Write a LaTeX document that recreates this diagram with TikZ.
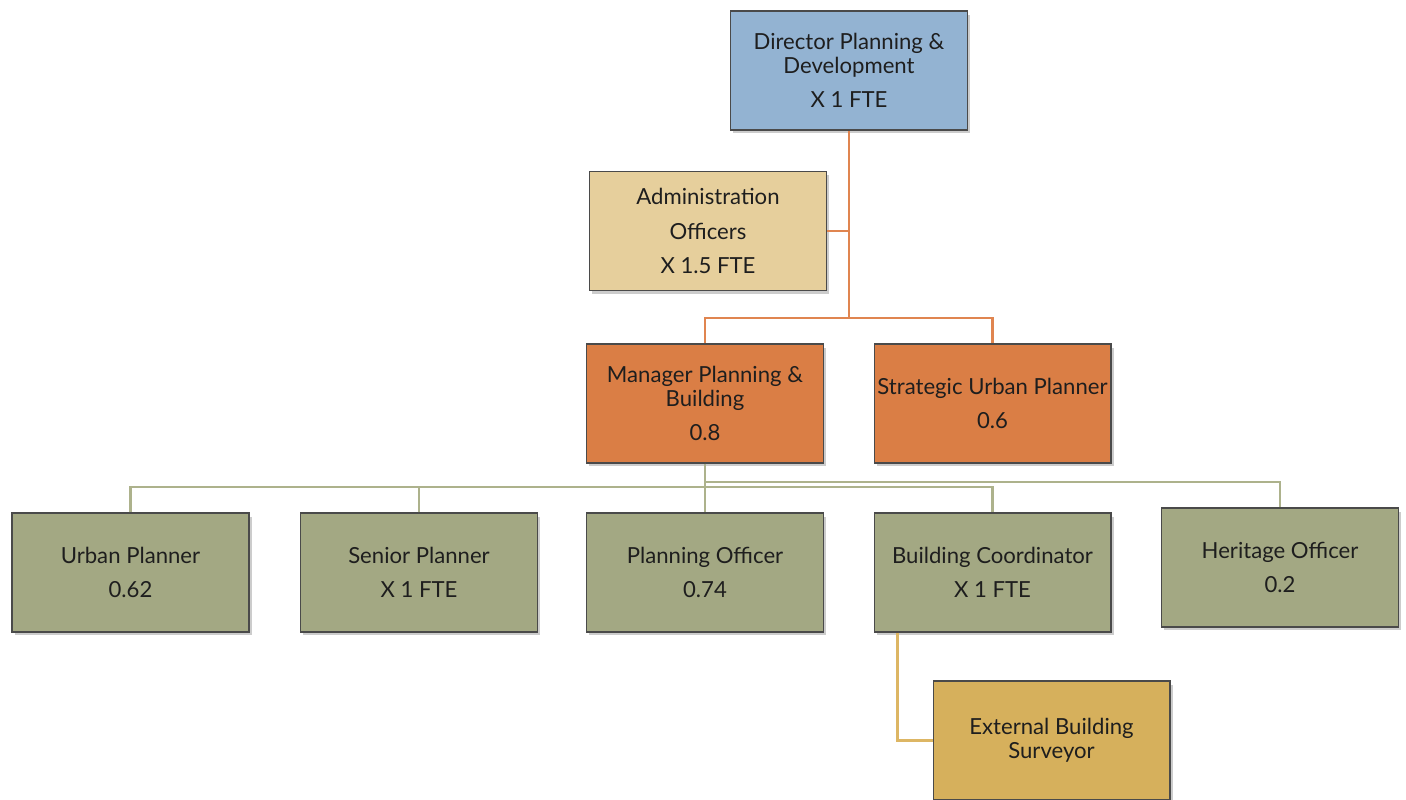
\documentclass[tikz,border=0pt]{standalone}
\usepackage{fontspec}
\setmainfont{Lato}
\usepackage{tikz}
\usetikzlibrary{shadows,calc}
\definecolor{dirblue}{HTML}{93B3D2}
\definecolor{admtan}{HTML}{E6CF9C}
\definecolor{mgrorange}{HTML}{DA7E45}
\definecolor{staffgreen}{HTML}{A3A883}
\definecolor{extgold}{HTML}{D6B05C}
\definecolor{orangelink}{HTML}{E08550}
\definecolor{greenlink}{HTML}{ADB28C}
\definecolor{goldlink}{HTML}{DDB664}
\definecolor{edge}{HTML}{4A4A4A}
\definecolor{ink}{HTML}{1E1E1E}
\tikzset{
  post/.style={rectangle, draw=edge, line width=0.6pt, minimum width=4.74cm,
    minimum height=2.38cm, inner sep=0pt, align=center, text=ink,
    font=\fontsize{12.6}{13.7}\selectfont,
    drop shadow={shadow xshift=1.5pt, shadow yshift=-2pt, opacity=0.4}},
  dirbox/.style={post, fill=dirblue},
  admbox/.style={post, fill=admtan},
  mgrbox/.style={post, fill=mgrorange},
  staffbox/.style={post, fill=staffgreen},
  extbox/.style={post, fill=extgold},
  orangeline/.style={draw=orangelink, line width=1.6pt},
  greenline/.style={draw=greenlink, line width=1.6pt},
  goldline/.style={draw=goldlink, line width=1.6pt},
}

\begin{document}
\begin{tikzpicture}[x=0.02cm, y=0.02cm]
  \useasboundingbox (0,0) rectangle (1406,800);

  % top of the chart
  \node[dirbox] (dir) at (849,729.5) {Director Planning \&\\Development\\[5.7pt]X 1 FTE};
  \node[admbox] (adm) at (708,569) {Administration\\[5.7pt]Officers\\[5.7pt]X 1.5 FTE};

  % managers
  \node[mgrbox] (mgr) at (705,396.5) {Manager Planning \&\\Building\\[5.7pt]0.8};
  \node[mgrbox] (sup) at (992.5,396.5) {Strategic Urban Planner\\[5.7pt]0.6};

  % staff row
  \node[staffbox] (urb) at (130.5,227.5) {Urban Planner\\[5.7pt]0.62};
  \node[staffbox] (snr) at (419,227.5) {Senior Planner\\[5.7pt]X 1 FTE};
  \node[staffbox] (pof) at (705,227.5) {Planning Officer\\[5.7pt]0.74};
  \node[staffbox] (bco) at (992.5,227.5) {Building Coordinator\\[5.7pt]X 1 FTE};
  \node[staffbox] (her) at (1280,232.5) {Heritage Officer\\[5.7pt]0.2};

  \node[extbox] (ext) at (1051.5,59.5) {External Building\\Surveyor};

  % connectors
  \coordinate (obus) at (849,482);
  \draw[orangeline] (dir.south) -- (obus);
  \draw[orangeline] (adm.east) -- (adm.east -| obus);
  \draw[orangeline] (mgr.north) |- (obus) -| (sup.north);

  \coordinate (gbus) at (705,313);
  \coordinate (hbus) at (705,318);
  \draw[greenline] (mgr.south) -- (pof.north);
  \draw[greenline] (urb.north) |- (gbus) -| (bco.north);
  \draw[greenline] (snr.north) |- (gbus);
  \draw[greenline] (hbus) -| (her.north);

  \coordinate (ejoint) at ($(bco.south west)+(24,0)$);
  \draw[goldline] (ejoint) |- (ext.west);
\end{tikzpicture}
\end{document}
